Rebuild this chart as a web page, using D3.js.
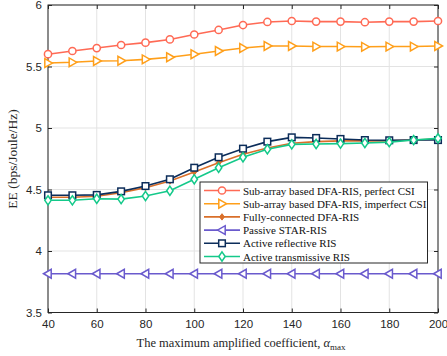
<!DOCTYPE html>
<html>
<head>
<meta charset="utf-8">
<script src="https://cdn.jsdelivr.net/npm/d3@7"></script>
<style>
  body { margin: 0; background: #fff; }
  svg { display: block; }
</style>
</head>
<body>
<svg id="chart"></svg>
<script>
// data
var alphaMax = [40, 50, 60, 70, 80, 90, 100, 110, 120, 130, 140, 150, 160, 170, 180, 190, 200];
var subPerfect = [5.60, 5.626, 5.65, 5.675, 5.694, 5.72, 5.76, 5.797, 5.837, 5.862, 5.87, 5.865, 5.865, 5.86, 5.865, 5.865, 5.87];
var subImperfect = [5.528, 5.534, 5.545, 5.547, 5.558, 5.575, 5.60, 5.626, 5.65, 5.667, 5.667, 5.662, 5.662, 5.66, 5.662, 5.662, 5.667];
var fullyConnected = [4.437, 4.437, 4.445, 4.474, 4.515, 4.569, 4.642, 4.718, 4.786, 4.837, 4.876, 4.889, 4.895, 4.895, 4.895, 4.902, 4.91];
var passiveStar = [3.815, 3.815, 3.815, 3.815, 3.815, 3.815, 3.815, 3.815, 3.815, 3.815, 3.815, 3.815, 3.815, 3.815, 3.815, 3.815, 3.815];
var activeRefl = [4.453, 4.453, 4.456, 4.485, 4.528, 4.583, 4.677, 4.762, 4.832, 4.889, 4.924, 4.919, 4.911, 4.902, 4.90, 4.902, 4.902];
var activeTrans = [4.412, 4.412, 4.425, 4.422, 4.447, 4.49, 4.583, 4.677, 4.762, 4.827, 4.867, 4.87, 4.873, 4.878, 4.885, 4.902, 4.916];
var xTicks = [40, 60, 80, 100, 120, 140, 160, 180, 200];
var yTicks = [3.5, 4, 4.5, 5, 5.5, 6];

var series = [
  { name: "Sub-array based DFA-RIS, perfect CSI", values: subPerfect, color: "#ff6a55", marker: "circle" },
  { name: "Sub-array based DFA-RIS, imperfect CSI", values: subImperfect, color: "#ff9f1a", marker: "triRight" },
  { name: "Fully-connected DFA-RIS", values: fullyConnected, color: "#d96f2a", marker: "diamondFill" },
  { name: "Passive STAR-RIS", values: passiveStar, color: "#6a5acd", marker: "triLeft" },
  { name: "Active reflective RIS", values: activeRefl, color: "#0c2d5a", marker: "square" },
  { name: "Active transmissive RIS", values: activeTrans, color: "#14c98a", marker: "diamond" }
];

var W = 447, H = 356;
var margin = { top: 5, right: 9, bottom: 43.5, left: 48 },
  width = W - margin.left - margin.right,
  height = H - margin.top - margin.bottom;

var svg = d3.select("#chart").attr("width", W).attr("height", H)
  .append("g")
  .attr("transform", "translate(" + margin.left + "," + margin.top + ")");

var x = d3.scaleLinear().domain([40, 200]).range([0, width]);
var y = d3.scaleLinear().domain([3.5, 6]).range([height, 0]);

// grid
svg.append("g").selectAll("line").data(xTicks).enter().append("line")
  .attr("x1", function (d) { return x(d); }).attr("x2", function (d) { return x(d); })
  .attr("y1", 0).attr("y2", height)
  .style("stroke", "#e3e3e3").style("stroke-width", 1);
svg.append("g").selectAll("line").data(yTicks).enter().append("line")
  .attr("y1", function (d) { return y(d); }).attr("y2", function (d) { return y(d); })
  .attr("x1", 0).attr("x2", width)
  .style("stroke", "#e3e3e3").style("stroke-width", 1);

// axes, ticks inward like matlab
function styleAxis(g) {
  g.select(".domain").remove();
  g.selectAll("line").style("stroke", "#262626");
  g.selectAll("text").style("font-family", "Liberation Sans, Arial, sans-serif")
    .style("font-size", "11.5px").style("fill", "#262626");
}
svg.append("g").attr("transform", "translate(0," + height + ")")
  .call(d3.axisBottom(x).tickValues(xTicks).tickSize(-4).tickPadding(7))
  .call(styleAxis);
svg.append("g")
  .call(d3.axisTop(x).tickValues(xTicks).tickSize(-4).tickFormat(""))
  .call(styleAxis);
svg.append("g")
  .call(d3.axisLeft(y).tickValues(yTicks).tickSize(-4).tickPadding(6).tickFormat(d3.format("")))
  .call(styleAxis);
svg.append("g").attr("transform", "translate(" + width + ",0)")
  .call(d3.axisRight(y).tickValues(yTicks).tickSize(-4).tickFormat(""))
  .call(styleAxis);

svg.append("rect").attr("x", 0).attr("y", 0).attr("width", width).attr("height", height)
  .style("fill", "none").style("stroke", "#262626").style("stroke-width", 1);

// markers
function drawMarker(g, type, color, cx, cy) {
  var s = 3.6;
  if (type === "circle") {
    g.append("circle").attr("cx", cx).attr("cy", cy).attr("r", s)
      .style("fill", "#fff").style("stroke", color).style("stroke-width", 1.5);
  } else if (type === "square") {
    g.append("rect").attr("x", cx - 3.3).attr("y", cy - 3.3).attr("width", 6.6).attr("height", 6.6)
      .style("fill", "#fff").style("stroke", color).style("stroke-width", 1.5);
  } else if (type === "triRight") {
    g.append("path").attr("d", "M" + (cx + 4.5) + "," + cy + "L" + (cx - 3.2) + "," + (cy - 4.4) + "L" + (cx - 3.2) + "," + (cy + 4.4) + "Z")
      .style("fill", "#fff").style("stroke", color).style("stroke-width", 1.5);
  } else if (type === "triLeft") {
    g.append("path").attr("d", "M" + (cx - 4.5) + "," + cy + "L" + (cx + 3.2) + "," + (cy - 4.4) + "L" + (cx + 3.2) + "," + (cy + 4.4) + "Z")
      .style("fill", "#fff").style("stroke", color).style("stroke-width", 1.5);
  } else if (type === "diamond") {
    g.append("path").attr("d", "M" + cx + "," + (cy - 4.6) + "L" + (cx + 3.2) + "," + cy + "L" + cx + "," + (cy + 4.6) + "L" + (cx - 3.2) + "," + cy + "Z")
      .style("fill", "#fff").style("stroke", color).style("stroke-width", 1.5);
  } else if (type === "diamondFill") {
    g.append("path").attr("d", "M" + cx + "," + (cy - 3.2) + "L" + (cx + 2.4) + "," + cy + "L" + cx + "," + (cy + 3.2) + "L" + (cx - 2.4) + "," + cy + "Z")
      .style("fill", color).style("stroke", color).style("stroke-width", 1);
  }
}

var line = d3.line()
  .x(function (d, i) { return x(alphaMax[i]); })
  .y(function (d) { return y(d); });

// draw in this order so the green/blue sit on top like the figure
var drawOrder = [0, 1, 3, 2, 4, 5];
drawOrder.forEach(function (k) {
  var s = series[k];
  var g = svg.append("g");
  g.append("path").datum(s.values).attr("d", line)
    .style("fill", "none").style("stroke", s.color).style("stroke-width", 1.6);
  s.values.forEach(function (v, i) {
    drawMarker(g, s.marker, s.color, x(alphaMax[i]), y(v));
  });
});

// legend
var leg = svg.append("g").attr("transform", "translate(" + (200 - margin.left) + "," + (182 - margin.top) + ")");
leg.append("rect").attr("x", 0).attr("y", 0).attr("width", 227.5).attr("height", 81)
  .style("fill", "#fff").style("stroke", "#262626").style("stroke-width", 1);
series.forEach(function (s, i) {
  var ly = 8.5 + i * 13.2;
  leg.append("line").attr("x1", 4).attr("x2", 40).attr("y1", ly).attr("y2", ly)
    .style("stroke", s.color).style("stroke-width", 1.6);
  drawMarker(leg, s.marker, s.color, 22, ly);
  leg.append("text").attr("x", 43).attr("y", ly + 4)
    .style("font-family", "Liberation Serif, Times New Roman, serif")
    .style("font-size", "11px").style("fill", "#111")
    .text(s.name);
});

// axis labels
svg.append("text")
  .attr("x", width / 2 - 2).attr("y", height + 34)
  .style("text-anchor", "middle")
  .style("font-family", "Liberation Serif, Times New Roman, serif")
  .style("font-size", "12.5px").style("fill", "#262626")
  .text("The maximum amplified coefficient, ")
  .append("tspan").style("font-style", "italic").text("α")
  .append("tspan").attr("dy", 3).style("font-style", "normal").style("font-size", "9px").text("max");

svg.append("text")
  .attr("transform", "rotate(-90)")
  .attr("x", -(159 - margin.top)).attr("y", -31)
  .style("text-anchor", "middle")
  .style("font-family", "Liberation Serif, Times New Roman, serif")
  .style("font-size", "13.5px").style("fill", "#262626")
  .text("EE (bps/Joule/Hz)");
</script>
</body>
</html>
